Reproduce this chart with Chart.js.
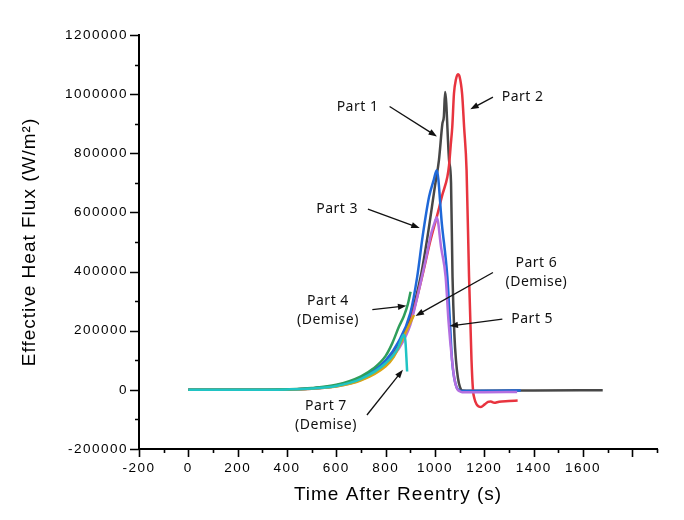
<!DOCTYPE html>
<html>
<head>
<meta charset="utf-8">
<script src="https://cdn.jsdelivr.net/npm/chart.js@4.4.1/dist/chart.umd.min.js"></script>
<style>
  html, body { margin: 0; padding: 0; background: #fff; }
</style>
</head>
<body>
<canvas id="chart" width="684" height="520"></canvas>
<script>
// Time after reentry (s) and effective heat flux (W/m^2)
const part1Time = [0, 200, 300, 400, 500, 600, 700, 800, 850, 900, 942, 970, 1000, 1016, 1030, 1036, 1041, 1057, 1065, 1071, 1079, 1085, 1093, 1101, 1111, 1200, 1400, 1680];
const part1Flux = [0, 0, 300, 1500, 5000, 14000, 39000, 95000, 150000, 245000, 383000, 520000, 690000, 777000, 900000, 925000, 1007000, 777000, 700000, 383000, 180000, 101000, 40000, 10000, -2000, -3000, -2000, -1000];

const part2Time = [0, 200, 300, 400, 500, 600, 700, 800, 850, 900, 950, 980, 1009, 1030, 1050, 1057, 1064, 1070, 1077, 1085, 1093, 1100, 1110, 1118, 1128, 1138, 1148, 1154, 1160, 1168, 1177, 1186, 1200, 1215, 1226, 1240, 1260, 1300, 1335];
const part2Flux = [0, 0, 300, 1400, 4500, 13000, 37000, 90000, 142000, 230000, 390000, 500000, 591000, 660000, 720000, 760000, 830000, 889000, 1003000, 1050000, 1067000, 1058000, 1000000, 889000, 743000, 383000, 101000, 0, -30000, -48000, -56000, -58000, -50000, -41000, -39500, -44000, -40000, -38000, -36000];

const part3Time = [0, 200, 300, 400, 500, 600, 700, 800, 850, 900, 928, 950, 976, 995, 1007, 1028, 1050, 1060, 1069, 1078, 1088, 1100, 1110, 1250, 1348];
const part3Flux = [0, 100, 400, 1500, 5000, 15000, 41000, 100000, 160000, 260000, 383000, 520000, 653000, 710000, 743000, 560000, 383000, 240000, 101000, 40000, 8000, -2000, -4000, -3000, -2000];

const part4Time = [0, 200, 300, 400, 500, 600, 700, 750, 800, 827, 854, 874, 890, 901];
const part4Flux = [0, 0, 400, 1800, 6000, 17000, 46000, 72000, 115000, 158000, 214000, 250000, 290000, 332000];

const part5Time = [0, 200, 300, 400, 500, 600, 700, 800, 850, 900, 930, 962, 985, 1000, 1007, 1025, 1043, 1055, 1069, 1078, 1088, 1100, 1110, 1200, 1333];
const part5Flux = [0, 0, 300, 1300, 4000, 12000, 34000, 85000, 135000, 220000, 320000, 439000, 530000, 570000, 584000, 480000, 383000, 230000, 101000, 40000, 6000, -5000, -8000, -8000, -7000];

const part6Time = [0, 200, 300, 400, 500, 600, 700, 800, 833, 867, 890, 915];
const part6Flux = [0, 0, 200, 1000, 3500, 11000, 32000, 80000, 112000, 169000, 210000, 253000];

const part7Time = [0, 200, 300, 400, 500, 600, 700, 800, 850, 865, 874, 880, 884, 887];
const part7Flux = [0, 0, 300, 1400, 4500, 13000, 37000, 90000, 142000, 175000, 186000, 165000, 110000, 62000];

// Callouts: text lines, text anchor, arrow tail and arrow tip (data units)
const callouts = [
  { lines: ["Part 1"], at: [686, 958000], from: [816, 958000], to: [1008, 857000] },
  { lines: ["Part 2"], at: [1355, 990000], from: [1235, 990000], to: [1143, 949000] },
  { lines: ["Part 3"], at: [603, 611000], from: [728, 611000], to: [938, 547000] },
  { lines: ["Part 4", "(Demise)"], at: [566, 299000], from: [746, 271000], to: [884, 284000] },
  { lines: ["Part 6", "(Demise)"], at: [1411, 428000], from: [1235, 397000], to: [921, 250000] },
  { lines: ["Part 5"], at: [1394, 239000], from: [1273, 239000], to: [1059, 216000] },
  { lines: ["Part 7", "(Demise)"], at: [558, -54000], from: [724, -85000], to: [870, 68000] },
];

function toPoints(times, flux) {
  return times.map((t, i) => ({ x: t, y: flux[i] }));
}

function series(label, times, flux, color) {
  return {
    label: label,
    data: toPoints(times, flux),
    borderColor: color,
    borderWidth: 2.5,
    pointRadius: 0,
    fill: false,
    cubicInterpolationMode: "monotone",
  };
}

// outward major / minor tick marks
const tickMarks = {
  id: "tickMarks",
  afterDraw(chart) {
    const { ctx, chartArea: a, scales } = chart;
    ctx.save();
    ctx.strokeStyle = "#000";
    ctx.lineWidth = 1.6;
    ctx.beginPath();
    for (let v = -200; v <= 1900; v += 100) {
      const px = Math.round(scales.x.getPixelForValue(v)) + 0.5;
      const len = v % 200 === 0 ? 8 : 4;
      ctx.moveTo(px, a.bottom);
      ctx.lineTo(px, a.bottom + len);
    }
    for (let v = -200000; v <= 1200000; v += 100000) {
      const py = Math.round(scales.y.getPixelForValue(v)) + 0.5;
      const len = v % 200000 === 0 ? 9 : 4;
      ctx.moveTo(a.left, py);
      ctx.lineTo(a.left - len, py);
    }
    ctx.stroke();
    ctx.restore();
  },
};

// arrows and labels
const notes = {
  id: "notes",
  afterDraw(chart) {
    const { ctx, scales } = chart;
    const px = (p) => [scales.x.getPixelForValue(p[0]), scales.y.getPixelForValue(p[1])];
    ctx.save();
    ctx.letterSpacing = "0.5px";
    ctx.font = '14px "Noto Sans", sans-serif';
    ctx.fillStyle = "#111";
    ctx.strokeStyle = "#111";
    ctx.textAlign = "center";
    ctx.textBaseline = "middle";
    callouts.forEach((c) => {
      const [tx, ty] = px(c.at);
      c.lines.forEach((line, i) => ctx.fillText(line, tx, ty + i * 19));
      const [x0, y0] = px(c.from);
      const [x1, y1] = px(c.to);
      const ang = Math.atan2(y1 - y0, x1 - x0);
      const head = 9;
      ctx.lineWidth = 1.3;
      ctx.beginPath();
      ctx.moveTo(x0, y0);
      ctx.lineTo(x1 - Math.cos(ang) * head * 0.8, y1 - Math.sin(ang) * head * 0.8);
      ctx.stroke();
      ctx.beginPath();
      ctx.moveTo(x1, y1);
      ctx.lineTo(x1 - head * Math.cos(ang - 0.35), y1 - head * Math.sin(ang - 0.35));
      ctx.lineTo(x1 - head * Math.cos(ang + 0.35), y1 - head * Math.sin(ang + 0.35));
      ctx.closePath();
      ctx.fill();
    });
    ctx.restore();
  },
};

// the reference uses wide spaced digits; titles a little less
const spacing = {
  id: "spacing",
  beforeDraw(chart) {
    chart.ctx.letterSpacing = "1.5px";
    Object.values(chart.scales).forEach((s) => {
      if (s._titleWrapped) return;
      const drawTitle = s.drawTitle.bind(s);
      s.drawTitle = function () {
        const c = this.ctx;
        c.save();
        c.letterSpacing = "1px";
        drawTitle();
        c.restore();
      };
      s._titleWrapped = true;
    });
  },
  afterDatasetsDraw(chart) {
    chart.ctx.letterSpacing = "0px";
  },
};

Chart.defaults.font.family = '"Liberation Sans", Arial, sans-serif';
Chart.defaults.color = "#000";

new Chart(document.getElementById("chart"), {
  type: "line",
  data: {
    datasets: [
      series("Part 7", part7Time, part7Flux, "#20c4c4"),
      series("Part 4", part4Time, part4Flux, "#2f9e5b"),
      series("Part 6", part6Time, part6Flux, "#d9a514"),
      series("Part 5", part5Time, part5Flux, "#b36fe0"),
      series("Part 3", part3Time, part3Flux, "#1f68d8"),
      series("Part 2", part2Time, part2Flux, "#e8343f"),
      series("Part 1", part1Time, part1Flux, "#474747"),
    ],
  },
  options: {
    responsive: false,
    animation: false,
    layout: { padding: { top: 35, right: 27, bottom: 0, left: 0 } },
    plugins: {
      legend: { display: false },
      tooltip: { enabled: false },
    },
    scales: {
      x: {
        type: "linear",
        min: -200,
        max: 1900,
        grid: { display: false, drawTicks: false },
        border: { display: true, color: "#000", width: 2 },
        ticks: {
          stepSize: 200,
          autoSkip: false,
          maxRotation: 0,
          padding: 11,
          font: { size: 13.5 },
          callback: (v) => String(v),
        },
        afterBuildTicks: (scale) => {
          scale.ticks = scale.ticks.filter((t) => t.value % 200 === 0);
        },
        afterFit: (scale) => {
          scale.height = 71;
        },
        title: {
          display: true,
          text: "Time After Reentry (s)",
          font: { size: 19 },
          padding: { top: 0, bottom: 14 },
        },
      },
      y: {
        type: "linear",
        min: -200000,
        max: 1200000,
        grid: { display: false, drawTicks: false },
        border: { display: true, color: "#000", width: 2 },
        ticks: {
          stepSize: 200000,
          padding: 11,
          font: { size: 13.5 },
          callback: (v) => String(v),
        },
        afterFit: (scale) => {
          scale.width = 139;
        },
        title: {
          display: true,
          text: "Effective Heat Flux (W/m²)",
          font: { size: 19 },
          padding: { top: 18, bottom: 0 },
        },
      },
    },
  },
  plugins: [spacing, tickMarks, notes],
});
</script>
</body>
</html>
